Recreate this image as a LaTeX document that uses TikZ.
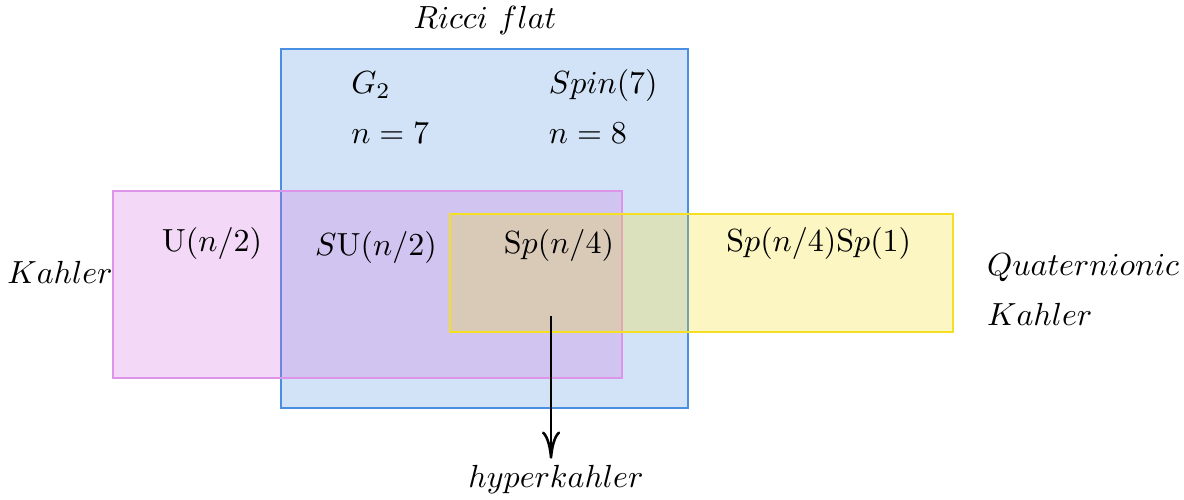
\documentclass[tikz,border=0pt]{standalone}
\usepackage{amsmath}
\usepackage{tikz}
\usetikzlibrary{arrows.meta, positioning, calc}
\definecolor{ricciblue}{RGB}{74,144,226}
\definecolor{kahlerpink}{RGB}{207,103,223}
\definecolor{quatyellow}{RGB}{243,219,10}
\tikzset{
    region/.style={rectangle, semithick, fill opacity=0.25},
    grouplabel/.style={font=\normalsize, inner sep=2pt},
    arrow/.style={-{To[length=3mm,width=2mm]}, thick, black},
}

\begin{document}
\begin{tikzpicture}[
  algebra/.style={inner sep=2pt},
  casebox/.style={anchor=west,inner sep=2pt}
]
\useasboundingbox (0,0) rectangle (13,5.479);

% Regions
\draw[region,draw=ricciblue,fill=ricciblue] (3.085,1.0) rectangle (7.554,4.941);
\draw[region,draw=kahlerpink!70,fill=kahlerpink] (1.241,1.328) rectangle (6.829,3.382);
\draw[region,draw=quatyellow!90,fill=quatyellow] (4.941,1.834) rectangle (10.463,3.129);

% Region names
\node[grouplabel] (ricci) at (5.325,5.259) {$Ricci\ flat$};
\node[grouplabel] (kahler) at (0.659,2.492) {$Kahler$};
\node[grouplabel,anchor=west] (quat) at (10.76,2.536) {$Quaternionic$};
\node[grouplabel,anchor=west] (qkahler) at (10.76,2.031) {$Kahler$};

% Ricci flat cases
\node[casebox] (g2) at (3.78,4.545) {$G_2$};
\node[casebox] (n7) at (3.78,4.018) {$n=7$};
\node[casebox] (spin) at (5.95,4.545) {$Spin(7)$};
\node[casebox] (n8) at (5.95,4.018) {$n=8$};

% Holonomy groups
\node[algebra] (u) at (2.328,2.80) {$\mathrm{U}(n/2)$};
\node[algebra] (su) at (4.128,2.767) {$S\mathrm{U}(n/2)$};
\node[algebra] (sp) at (6.137,2.778) {$\mathrm{S}p(n/4)$};
\node[algebra] (spsp) at (8.99,2.80) {$\mathrm{S}p(n/4)\mathrm{S}p(1)$};

% Hyperkahler
\node[grouplabel] (hyper) at (6.104,0.209) {$hyperkahler$};
\coordinate (hstart) at (6.05,2.009);
\draw[arrow] (hstart) -- (hstart |- hyper.north);
\end{tikzpicture}
\end{document}
